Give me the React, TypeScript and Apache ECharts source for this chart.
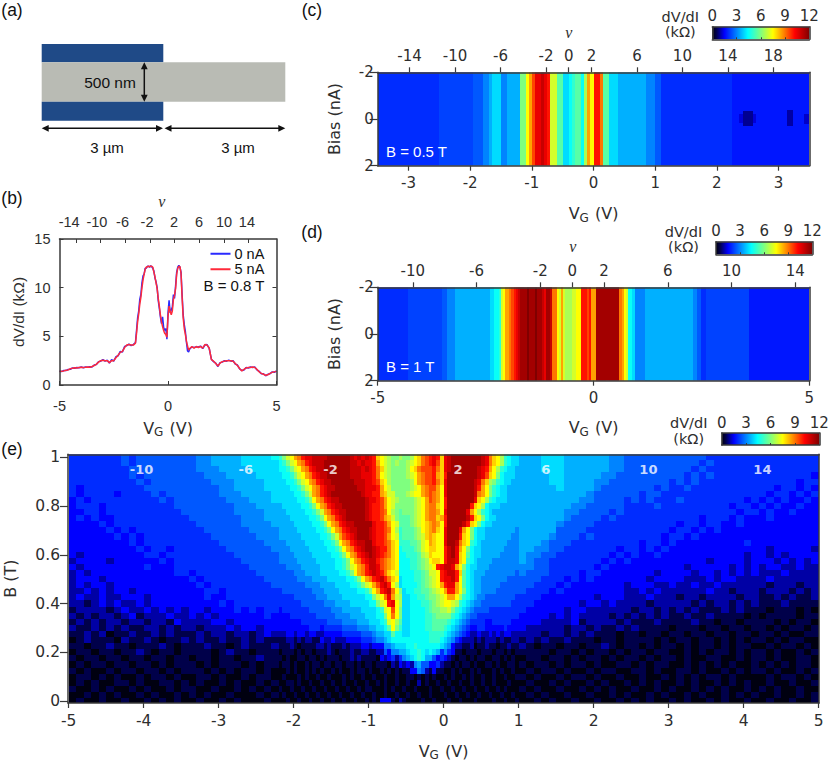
import { useEffect, useRef } from 'react';
import * as echarts from 'echarts';

// level chars are base 36, half a kOhm per step: 0=0, 6=3, c=6, i=9, o=12
// w and x are the two in-between blues, 1.75 and 2.25
const colorStops: Array<[number, string]> = [
  [0, '#000010'], [0.5, '#00004a'], [1.5, '#0000ff'], [4.4, '#00ffff'], [6, '#7fff7f'],
  [7.5, '#ffff00'], [8.8, '#ff8800'], [10.2, '#ff0000'], [12, '#800000'],
];

// (b)
const bVg = [
  -5, -4.9, -4.8, -4.7, -4.6, -4.5, -4.4, -4.3, -4.2, -4.1, -4, -3.9, -3.8, -3.7, -3.6, -3.5, -3.4, -3.3, -3.2, -3.1,
  -3, -2.9, -2.8, -2.7, -2.6, -2.5, -2.4, -2.3, -2.2, -2.1, -2, -1.9, -1.8, -1.7, -1.6,
  -1.5, -1.45, -1.4, -1.35, -1.3, -1.25, -1.2, -1.15, -1.1, -1.05, -1, -0.95, -0.9, -0.85, -0.8, -0.75, -0.7, -0.65, -0.6, -0.55,
  -0.5, -0.45, -0.4, -0.35, -0.3, -0.25, -0.2, -0.15, -0.1, -0.05, 0, 0.05, 0.1, 0.15, 0.2, 0.25, 0.3, 0.35, 0.4, 0.45,
  0.5, 0.55, 0.6, 0.65, 0.7, 0.75, 0.8, 0.85, 0.9, 0.95,
  1, 1.1, 1.2, 1.3, 1.4, 1.5, 1.6, 1.7, 1.8, 1.9, 2, 2.1, 2.2, 2.3, 2.4, 2.5, 2.6, 2.7, 2.8, 2.9,
  3, 3.1, 3.2, 3.3, 3.4, 3.5, 3.6, 3.7, 3.8, 3.9, 4, 4.1, 4.2, 4.3, 4.4, 4.5, 4.6, 4.7, 4.8, 4.9, 5,
];
const bBlue = [
  1.42, 1.38, 1.5, 1.48, 1.6, 1.62, 1.75, 1.72, 1.8, 1.78, 1.85, 1.78, 1.85, 1.82, 1.88, 1.85, 2.05, 2.1, 2.4, 2.45,
  2.6, 2.45, 2.55, 2.25, 2.6, 2.45, 2.9, 3.0, 3.45, 3.4, 3.95, 4.05, 4.2, 4.05, 4.15,
  4.35, 5.6, 6.9, 7.6, 8.8, 9.3, 10.5, 11.2, 11.4, 12.0, 12.0, 12.2, 12.2, 12.1, 12.25, 12.15, 12.0, 11.7, 11.0, 10.6,
  10.0, 8.7, 7.9, 7.0, 6.3, 7.0, 5.9, 5.6, 5.8, 4.7, 7.4, 8.7, 7.4, 7.7, 8.0, 9.3, 8.9, 10.2, 11.6, 12.1,
  12.3, 12.1, 11.6, 9.3, 7.2, 6.2, 5.5, 4.4, 3.5, 3.4,
  3.7, 3.9, 3.85, 3.9, 3.9, 4.0, 3.75, 4.1, 4.15, 3.75, 2.65, 2.4, 2.25, 1.9, 2.3, 2.35, 2.5, 2.45, 2.55, 2.45,
  2.5, 2.15, 2.05, 1.65, 1.5, 1.55, 1.8, 1.75, 1.85, 1.8, 1.85, 1.55, 1.4, 1.15, 1.15, 0.95, 1.1, 1.15, 1.35, 1.3, 1.45,
];
const bRed = [
  1.38, 1.42, 1.45, 1.52, 1.55, 1.68, 1.72, 1.78, 1.75, 1.8, 1.82, 1.8, 1.82, 1.85, 1.82, 1.9, 2.0, 2.15, 2.35, 2.5,
  2.55, 2.5, 2.5, 2.3, 2.5, 2.5, 2.8, 3.05, 3.35, 3.45, 3.85, 4.1, 4.15, 4.1, 4.1,
  4.3, 5.3, 6.5, 7.3, 8.3, 9.0, 10.0, 10.8, 11.4, 11.9, 12.1, 12.15, 12.2, 12.15, 12.2, 12.2, 12.1, 11.6, 11.1, 10.5,
  9.9, 8.9, 8.1, 7.2, 6.5, 6.0, 5.6, 5.3, 5.2, 4.9, 7.0, 8.1, 7.6, 7.2, 7.6, 8.8, 9.2, 9.9, 11.4, 12.0,
  12.2, 12.15, 11.5, 9.0, 6.9, 5.8, 5.2, 4.5, 4.0, 3.6,
  3.75, 3.95, 3.8, 3.95, 3.85, 3.95, 3.8, 4.15, 4.1, 3.8, 2.6, 2.45, 2.2, 1.95, 2.25, 2.4, 2.45, 2.5, 2.5, 2.5,
  2.45, 2.2, 2.0, 1.7, 1.45, 1.6, 1.75, 1.8, 1.8, 1.85, 1.8, 1.6, 1.35, 1.2, 1.1, 1.0, 1.05, 1.2, 1.3, 1.35, 1.4,
];
const bNuTicks = [-14, -10, -6, -2, 2, 6, 10, 14];
const bNuLabelAt = [-15.1, -10.6, -6.45, -2.48, 1.9, 5.95, 10, 13.7];

// (c) one profile along VG, 0.05 V a column from -3.5 V
const cProfile =
  '4444444444 4444444444 xxxxxxxxxx x555667888 66777 7ccfh jllmlkeebb 889abb9dhf kkibb88877 7777777666 5544444444 4444444444 44444wwwww wwwwwwwwww wwwwwwwwww';
const cSpots = [
  [2.36, 2.64, -0.2, 0.15, 1.3], [2.42, 2.58, -0.35, 0.3, 0.9], [3.14, 3.24, -0.4, 0.3, 1], [3.42, 3.5, -0.2, 0.2, 1.2],
];
const cNuTicks = [-14, -10, -6, -2, 0, 2, 6, 10, 14, 18];

// (d) 0.1 V columns outside, 0.05 V in the middle
const dLeft = '44444 44xxx xxxxx 56 677777777';
const dMiddle = '8899aefhhi jklmnnnonn nonnmlnnmi ifehedddee ffkkkjkhhn nnnnnnnnnn ihfe998666 66 66';
const dRight = '77777777777 6 54 xxxxxxxxxx wwwwwwwwwwwwww';
const dNuTicks = [-10, -6, -2, 0, 2, 6, 10, 14];

// (e) rows from B = 1 T down, three blocks: -5..-2.2 V, -2.2..1 V, 1..5 V
const eB = [
  1, 0.975, 0.95, 0.925, 0.9, 0.875, 0.85, 0.825, 0.8, 0.775, 0.75, 0.725, 0.7, 0.675, 0.65, 0.625, 0.6, 0.575, 0.55, 0.525,
  0.5, 0.475, 0.45, 0.425, 0.4, 0.375, 0.35, 0.325, 0.3, 0.275, 0.25, 0.225, 0.2, 0.175, 0.15, 0.125, 0.1, 0.075, 0.05, 0.025, 0,
];
const eLeft = [
  '4444 4445 4555 5555 5667 7778 8889', '4444 4445 4555 5555 5667 7778 8888', '4444 4444 5555 5555 5666 7777 8888',
  '4444 4444 5455 5555 5566 6777 7888', '4444 4444 4545 5555 5556 6677 7788', '4344 4444 4455 5555 5555 6677 7788',
  '4344 4434 4445 4555 5555 6667 7778', '3434 4444 4444 5455 5555 5666 7778', '3444 3444 4444 4455 5555 5566 6777',
  '3344 3444 4444 4445 5555 5566 6677', '3434 3344 4444 4444 5555 5556 6677', '3333 4344 4444 4444 4555 5556 6667',
  '3333 3434 3444 4444 4455 5555 6666', '3333 3343 4344 4444 4445 5555 5666', '3333 3333 4344 4444 4444 5555 5566',
  '3333 3333 3434 4344 4444 4555 5556', '3233 3333 3344 3444 4444 4455 5555', '2333 3233 3333 4344 4444 4445 5555',
  '3233 3333 3343 3344 4444 4444 5555', '2323 3333 3333 3344 3444 4444 4555', '2333 2333 3333 3333 4344 4444 4455',
  '2323 3233 3333 3333 3434 4444 4445', '2232 3233 2333 3333 3344 3444 4444', '2322 3223 3323 3333 3343 3444 4444',
  '2212 3232 2323 3333 3333 4344 4444', '1222 2123 2232 3232 3323 3343 4344', '2121 2212 3122 2322 3232 3333 3343',
  '1212 1221 2212 2132 2223 3233 3333', '2112 1212 1122 1212 2122 2323 3233', '1121 2011 2112 1211 1212 2122 1232',
  '0121 1102 1121 0112 1211 2112 1211', '1101 1211 0111 2101 1121 1012 1112', '0110 1101 1210 1101 1110 1211 0111',
  '1011 0110 1101 1011 0110 1101 1211', '0101 1011 0110 1011 1010 1110 1011', '1010 0101 1011 0101 1101 0101 1010',
  '0110 1010 0101 1010 0110 1001 0110', '0101 0011 0100 1101 0100 1010 0101', '1001 0100 1010 0101 1001 0010 1010',
  '0010 1010 0101 0010 1010 0100 0101', '0100 1001 0010 1010 0100 1010 0010',
];
const eMiddle = [
  'acef hikl lmmm mnnn nnnm lmlm lkgf edcc dccd fgij klkg lmnn nnnn nnml igfd a988',
  '9ace fhik lmmm nnnn nnnm mlml lkhf edcd ccde fgij kljg lmnn nnnn nnml igfd a988',
  '99ac efhi klmm nnnn nnnm mmlm lkig edcc ccdf gijj jkig lmnn nnnn nmlk hfda 9887',
  '899a cefh iklm mnnn nnnm mmll lkif edcc ccde fhij jkhg knnn nnnn nmlj gfc9 8887',
  '8899 acef hikl mmnn nnnn mmml lkjg fdcc cccd fhij jkig lnnn nnnn mlig dca9 8877',
  '8889 9ace fhik lmmn nnnn nmml llkh fecc cccd efhi jjhf lnnn nnnn mkhf ca98 8777',
  '8888 99ac ehik lmnn nnnn nnml lkkh geec ccde ffhi jihf lnnn nnnn mihf ca98 8777',
  '8888 899a cfhi klmm nnnn nnnm llkj hfed cccc defh jihf knnn nnnn lgfd a988 8777',
  '7888 8899 acfh iklm mnnn nnnm lkkj hfec cccc defh iigf knnn nnnk gfd9 8887 7777',
  '7788 8889 9ace hikl mmnn nnnm lkkj ifdc bccc defh iihf lnnn nnlh fda9 8777 7777',
  '7778 8888 99ac fhik lmnn nnnm lkkj hgec bbbc defh iigh knnn nnmk gfc9 8877 7777',
  '7777 8888 899a cfhi klmm nnnn nlkk jhfe bbbc defg hihf knnn nmkg fc98 8777 7777',
  '7777 7888 8899 acfh iklm mnnn mlkk jifd abbb cdfg higf lnnn lhfc 9887 7777 7776',
  '7777 7788 8889 9ace hjkl mnnn mlkk jhfe abbb cdeg hgff lnnn kgfc 9887 7777 7766',
  '6677 7778 8888 99ac fhik lmmn nlkk jigf aaab bcef hgff lnnm igfa 9877 7777 7666',
  '6667 7777 8888 899a cfhi klmn nmlk kigf 9aaa bcef ggff kmnl hfc9 8877 7777 6666',
  '6666 7777 7888 8899 acfh iklm nmlk jigf 99aa abde gfff kmnl gfb9 8877 7776 6666',
  '6666 6777 7788 8889 9acf hikl mmkj ihgf 999a abcd fggf kmml gfa9 8777 7666 6666',
  '5566 6677 7778 8889 9ace fhik mmlj ihgf 999a abcd efkl mmlh fc98 8777 6666 6666',
  '5555 6667 7778 8888 99ac fhik lmlk igfe 9999 aabc eefk lmmk gb98 7776 6666 6665',
  '5555 5666 6777 7888 8899 acfh iklm kigf 8999 aabc defk llmk fb98 7766 6666 6555',
  '5555 5556 6667 7778 8889 9ace fhjl mkfd 8999 9abc defh kllh fb98 7766 6665 5555',
  '4555 5555 5666 7777 8888 899a cfhk lmif c899 aabb cdef hkkh fc98 7766 6655 5555',
  '4444 5555 5566 6777 7888 8889 9cef ilhe d889 9aab ccde fhhf da98 7665 5555 5554',
  '4444 4455 5555 6667 7778 8888 99ce fklf d889 99aa bcde ffed a987 6655 5555 5544',
  '3444 4444 5555 5566 6777 7788 889a efjf c889 999a bccd deca 9876 5555 4444 4444',
  '3334 4444 4455 5556 6667 7778 8899 cfif c889 999a abcc cca9 8765 5444 4444 4444',
  '3333 3344 4444 4555 5666 6777 8889 aefd b889 999a abbb ba98 7654 4443 3444 4433',
  '3333 3333 4443 4444 4555 5666 7788 9bfc a889 999a abbb a987 6543 3443 3333 4333',
  '2233 2332 3322 3333 3444 4455 5677 88b9 9889 9999 aaaa 9876 5432 2322 3232 3322',
  '1122 1212 2113 2232 2233 3344 4566 7899 9999 9999 aaa9 8764 3222 1212 2212 1122',
  '1112 1011 1122 1211 1212 2233 2333 6678 8899 a999 9998 7632 2112 0112 1101 1211',
  '0111 0101 1011 1210 1112 1122 1122 5366 7789 9a98 9874 6431 1011 1011 1011 0101',
  '1010 0110 1101 0111 0112 1211 1103 2342 4678 9a97 7534 3210 1101 0110 0110 1010',
  '0110 1001 0110 1101 1011 0101 1011 1021 3232 6755 3342 1101 0110 1001 1010 0110',
  '0010 1001 0101 0010 1001 0110 1001 0101 0113 3652 1311 0010 1001 0100 0101 0010',
  '0100 0101 0010 0100 0101 0010 0100 1001 0011 0101 0100 1010 0101 0010 0100 1001',
  '0011 0100 1001 0010 0100 1001 0010 1001 0010 0201 0010 0100 1001 0010 0100 0100',
  '1001 0010 0100 1001 0010 0101 1000 1010 0100 1000 1001 0010 0100 1001 0010 1000',
  '0100 1001 0010 0100 1001 0010 0100 1001 0010 0100 1000 1001 0010 0100 1001 0010',
  '0010 0100 1001 0010 0100 1001 0103 3310 2100 0010 0100 0100 1000 1000 0100 1001',
];
const eRight = [
  '7778 8877 7777 6655 5555 5555 5444 4444 4444 4444', '7778 8877 7777 6655 5555 5555 4544 4444 4444 4444',
  '7778 8877 7777 6655 5555 5554 5444 4444 4444 4444', '7777 8877 7776 6555 5555 5545 4544 4444 4444 4443',
  '7777 8877 7766 5555 5555 4545 4444 4444 4444 4344', '7777 7877 7765 5555 5545 4454 4444 4444 4434 4343',
  '7777 7777 7655 5555 4554 4444 4444 4444 4344 3434', '7777 7777 6655 5545 4544 4544 4444 4434 3434 3343',
  '7777 7776 6555 5544 4454 4444 4444 3443 4343 3433', '7777 7766 5555 4544 4444 4444 4444 4344 3433 4333',
  '7777 7765 5554 5444 4444 4444 3444 3433 3433 3333', '7777 7655 5544 4444 4444 4344 3443 3433 3333 3333',
  '7777 7555 5444 4444 4444 3443 4343 3333 3333 3333', '7777 6555 4544 4444 4443 4434 3333 3333 3333 3333',
  '7776 5554 4444 4444 3443 4333 3333 3343 3333 3333', '7766 5544 4444 4344 3434 3333 3333 3333 3233 3332',
  '7665 5444 4444 3434 3343 3333 3333 3323 3232 3333', '7655 4444 4443 4343 3333 3333 3233 3323 3323 2323',
  '6655 4444 4434 3333 3333 3323 3333 2323 2332 2322', '6555 4444 3443 3333 3323 3332 3323 2323 2223 2222',
  '5554 4434 3433 3333 3233 3322 2323 3222 2322 2222', '5544 4343 3333 3323 3322 3223 2232 2222 2122 2122',
  '5444 3433 3333 3322 3232 2222 2322 1222 1222 1212', '4443 3333 3323 3322 2322 2122 1222 2122 1121 2112',
  '4433 3333 2332 3222 2122 2221 2122 1212 1112 1111', '4333 3323 3222 2221 2212 1212 1112 1211 1011 1010',
  '3333 2323 2222 1212 1212 1121 1211 1101 0111 1011', '3332 2223 1222 2121 1121 1112 1101 1011 1101 0110',
  '3222 2212 2121 1212 1111 0111 0110 1101 1010 1101', '2221 2212 1211 1011 0110 1101 1011 0110 1101 0011',
  '1212 1121 1101 1011 1101 0110 1101 0101 1010 1100', '2101 1011 0112 1011 0101 1010 1101 0110 0101 1010',
  '1111 0110 1011 0101 1011 0010 1011 0101 1010 0101', '0110 1101 0110 1011 0101 1010 0110 0101 1010 0110',
  '1011 0101 1010 0110 1011 0010 1010 1001 0101 0110', '0101 1010 0101 1001 1010 0110 1001 0101 1010 0101',
  '1010 0101 1010 0100 1001 0101 0110 1000 0101 1010', '0100 1010 0101 0010 1010 0101 0010 1010 0100 1001',
  '1010 0100 1010 1001 0010 1001 0101 0010 1010 0100', '0101 0010 0100 1010 0101 0010 1001 0101 0010 0101',
  '0010 1001 0010 0101 0100 1010 0101 0010 0100 1001',
];
const eNuNames = ['-10', '-6', '-2', '2', '6', '10', '14'];
const eNuV = [-4.03, -2.64, -1.51, 0.19, 1.36, 2.73, 4.25];

const tickText = '#2e2e2e';
const axisDark = '#3a3a3a';
const plainFont = 'DejaVu Sans';
const labelFont = 'Liberation Sans';

const rgb = (hex: string) => [1, 3, 5].map((i) => parseInt(hex.slice(i, i + 2), 16));

function jetColor(v: number) {
  for (let i = 1; i < colorStops.length; i++) {
    if (v <= colorStops[i][0]) {
      const [v0, c0] = colorStops[i - 1];
      const [v1, c1] = colorStops[i];
      const t = Math.max(0, (v - v0) / (v1 - v0));
      const a = rgb(c0);
      const b = rgb(c1);
      return `rgb(${a.map((x, k) => Math.round(x + (b[k] - x) * t)).join(',')})`;
    }
  }
  return colorStops[colorStops.length - 1][1];
}

const levels = (s: string) =>
  s.replace(/ /g, '').split('').map((ch) => (ch === 'w' ? 1.75 : ch === 'x' ? 2.25 : parseInt(ch, 36) / 2));

// one item per cell: [x0, x1, y0, y1, value]
function cells(row: string, x0: number, dx: number, y0: number, y1: number) {
  return levels(row).map((v, i) => [x0 + i * dx, x0 + (i + 1) * dx, y0, y1, v]);
}

const renderCell = (params: any, api: any) => {
  const a = api.coord([api.value(0), api.value(2)]);
  const b = api.coord([api.value(1), api.value(3)]);
  const x = Math.round(Math.min(a[0], b[0]));
  const y = Math.round(Math.min(a[1], b[1]));
  const shape = echarts.graphic.clipRectByRect(
    { x, y, width: Math.round(Math.max(a[0], b[0])) - x, height: Math.round(Math.max(a[1], b[1])) - y },
    params.coordSys,
  );
  if (!shape) return;
  return { type: 'rect', shape, style: { fill: jetColor(api.value(4)) } };
};

const heatSeries = (axis: number, data: number[][]) => ({
  type: 'custom',
  xAxisIndex: axis,
  yAxisIndex: axis,
  renderItem: renderCell,
  silent: true,
  data,
});

const tickLabel = { color: tickText, fontFamily: plainFont, fontSize: 15 };
const bTickLabel = { color: tickText, fontFamily: labelFont, fontSize: 14.5 };
const vgName = {
  name: '{v|V}{g|G}{v| (V)}',
  nameLocation: 'middle',
  nameTextStyle: {
    rich: {
      v: { fontFamily: plainFont, fontSize: 16, color: tickText },
      g: { fontFamily: plainFont, fontSize: 12, color: tickText, padding: [8, 1, 0, 0] },
    },
  },
};

function xAxisFor(gridIndex: number, min: number, max: number, ticks: number[], extra: any = {}) {
  return {
    type: 'value', gridIndex, min, max, position: 'bottom', z: 10,
    splitLine: { show: false },
    axisLine: { show: true, onZero: false, lineStyle: { color: axisDark, width: 1.5 } },
    axisTick: { show: true, length: 5, customValues: ticks, lineStyle: { color: axisDark, width: 1.2 } },
    axisLabel: { ...tickLabel, margin: 10, customValues: ticks },
    ...extra,
  };
}

function yAxisFor(gridIndex: number, min: number, max: number, ticks: number[], extra: any = {}) {
  return {
    type: 'value', gridIndex, min, max, position: 'left', z: 10,
    splitLine: { show: false },
    axisLine: { show: true, onZero: false, lineStyle: { color: axisDark, width: 1.5 } },
    axisTick: { show: true, length: 8, customValues: ticks, lineStyle: { color: axisDark, width: 1.2 } },
    axisLabel: { ...tickLabel, margin: 4, customValues: ticks },
    ...extra,
  };
}

const yName = (name: string, nameGap: number, fontFamily = plainFont) => ({
  name, nameLocation: 'middle', nameGap,
  nameTextStyle: { color: tickText, fontFamily, fontSize: fontFamily === plainFont ? 16 : 15.5 },
});

// an axis with only its line, for the far side of a frame
const frameX = (gridIndex: number, min: number, max: number, position: string) => ({
  type: 'value', gridIndex, min, max, position, z: 10, splitLine: { show: false },
  axisLine: { show: true, onZero: false, lineStyle: { color: axisDark, width: 1.5 } },
  axisTick: { show: false }, axisLabel: { show: false },
});
const frameY = frameX;

function text(str: string, x: number, y: number, font: string, extra: any = {}) {
  return {
    type: 'text', z: 20, x, y,
    style: {
      text: str, font, fill: tickText, align: 'center', verticalAlign: 'middle',
      textAlign: 'center', textVerticalAlign: 'middle', ...extra,
    },
  };
}

const line = (x1: number, y1: number, x2: number, y2: number) => ({
  type: 'line', z: 20, shape: { x1, y1, x2, y2 }, style: { stroke: '#111', lineWidth: 1.5 },
});
const head = (points: number[][]) => ({ type: 'polygon', z: 20, shape: { points }, style: { fill: '#111' } });

function arrowH(x1: number, x2: number, y: number) {
  return [
    line(x1 + 3, y, x2 - 3, y),
    head([[x1, y], [x1 + 7, y - 3.4], [x1 + 7, y + 3.4]]),
    head([[x2, y], [x2 - 7, y - 3.4], [x2 - 7, y + 3.4]]),
  ];
}

function arrowV(x: number, y1: number, y2: number) {
  return [
    line(x, y1 + 3, x, y2 - 3),
    head([[x, y1], [x - 3.4, y1 + 7], [x + 3.4, y1 + 7]]),
    head([[x, y2], [x - 3.4, y2 - 7], [x + 3.4, y2 - 7]]),
  ];
}

export default function App() {
  const chartRef = useRef<HTMLDivElement>(null);

  useEffect(() => {
    if (!chartRef.current) return;
    document.body.style.margin = '0';
    const chart = echarts.init(chartRef.current, undefined, { renderer: 'svg' });

    const heatC = cells(cProfile, -3.5, 0.05, -2, 2).concat(cSpots);
    const heatD = [
      ...cells(dLeft, -5, 0.1, -2, 2),
      ...cells(dMiddle, -2.4, 0.05, -2, 2),
      ...cells(dRight, 1.2, 0.1, -2, 2),
    ];
    const heatE = eB.flatMap((b, j) => [
      ...cells(eLeft[j], -5, 0.1, b - 0.0125, b + 0.0125),
      ...cells(eMiddle[j], -2.2, 0.05, b - 0.0125, b + 0.0125),
      ...cells(eRight[j], 1, 0.1, b - 0.0125, b + 0.0125),
    ]);

    const grids = [
      { left: 59.5, top: 239, width: 217, height: 146 }, // b
      { left: 377.7, top: 72.3, width: 431.6, height: 93.4 }, // c
      { left: 377.7, top: 287.3, width: 431.6, height: 93.4 }, // d
      { left: 68, top: 454.3, width: 751, height: 248.7 }, // e
      { left: 712.3, top: 26.7, width: 97, height: 12.6 }, // colour bars
      { left: 716, top: 241.7, width: 96.3, height: 12.6 },
      { left: 721.7, top: 433, width: 97.6, height: 12 },
    ].map((g) => ({ ...g, outerBoundsMode: 'none' }));

    const barTicks = [0, 3, 6, 9, 12];
    const barX = (gridIndex: number) =>
      xAxisFor(gridIndex, 0, 12, barTicks, {
        position: 'top',
        axisLine: { show: true, onZero: false, lineStyle: { color: axisDark, width: 1.5 } },
        axisTick: { show: false },
        axisLabel: { ...tickLabel, margin: 3, customValues: barTicks },
      });
    const barY = (gridIndex: number) => ({
      type: 'value', gridIndex, min: 0, max: 1, z: 10, splitLine: { show: false },
      axisLine: { show: true, onZero: false, lineStyle: { color: axisDark, width: 1.5 } },
      axisTick: { show: false }, axisLabel: { show: false },
    });

    const xAxes: any[] = [
      xAxisFor(0, -5, 5, [-5, 0, 5], {
        ...vgName, nameGap: 33,
        axisTick: { show: true, inside: true, length: 4, customValues: [-5, 0, 5], lineStyle: { color: axisDark } },
        axisLabel: { ...bTickLabel, margin: 13, customValues: [-5, 0, 5] },
      }),
      xAxisFor(1, -3.5, 3.5, [-3, -2, -1, 0, 1, 2, 3], { ...vgName, nameGap: 38 }),
      xAxisFor(2, -5, 5, [-5, 0, 5], { ...vgName, nameGap: 37 }),
      xAxisFor(3, -5.01, 5.005, [-5, -4, -3, -2, -1, 0, 1, 2, 3, 4, 5], {
        ...vgName, nameGap: 38,
        axisLabel: { ...tickLabel, fontSize: 15.5, margin: 10, customValues: [-5, -4, -3, -2, -1, 0, 1, 2, 3, 4, 5] },
      }),
      barX(4), barX(5), barX(6),
      // filling factor axes on top: indices 7, 8, 9
      xAxisFor(0, -16.66, 18.5, bNuTicks, {
        position: 'top',
        axisTick: { show: true, inside: true, length: 4, customValues: bNuTicks, lineStyle: { color: axisDark } },
        axisLabel: {
          ...bTickLabel, margin: 10, customValues: bNuLabelAt,
          formatter: (v: number) => String(bNuTicks[bNuLabelAt.indexOf(v)]),
        },
      }),
      xAxisFor(1, -16.8, 21.16, cNuTicks, { position: 'top', axisLabel: { ...tickLabel, margin: 9, customValues: cNuTicks } }),
      xAxisFor(2, -12.2, 14.88, dNuTicks, { position: 'top', axisLabel: { ...tickLabel, margin: 9, customValues: dNuTicks } }),
    ];

    const yAxes: any[] = [
      yAxisFor(0, 0, 15, [0, 5, 10, 15], {
        ...yName('dV/dI (kΩ)', 33, labelFont),
        axisTick: { show: true, inside: true, length: 4, customValues: [0, 5, 10, 15], lineStyle: { color: axisDark } },
        axisLabel: { ...bTickLabel, margin: 9, customValues: [0, 5, 10, 15] },
      }),
      yAxisFor(1, -2, 2, [-2, 0, 2], { inverse: true, ...yName('Bias (nA)', 35) }),
      yAxisFor(2, -2, 2, [-2, 0, 2], { inverse: true, ...yName('Bias (nA)', 35) }),
      yAxisFor(3, -0.008, 1.012, [0, 0.2, 0.4, 0.6, 0.8, 1], {
        ...yName('B (T)', 50),
        axisLabel: { ...tickLabel, fontSize: 15.5, margin: 8, customValues: [0, 0.2, 0.4, 0.6, 0.8, 1] },
      }),
      barY(4), barY(5), barY(6),
      // right side of the frames: indices 7..10
      {
        ...frameY(0, 0, 15, 'right'),
        axisTick: { show: true, inside: true, length: 4, customValues: [5, 10], lineStyle: { color: axisDark } },
      },
      frameY(1, 0, 1, 'right'), frameY(2, 0, 1, 'right'), frameY(3, 0, 1, 'right'),
      frameY(4, 0, 1, 'right'), frameY(5, 0, 1, 'right'), frameY(6, 0, 1, 'right'),
    ];
    // bottom of the colour bars with small inner ticks, indices 10..12, and the top of (e) at 13
    const smallTicks = [3, 6, 9];
    [4, 5, 6].forEach((g) =>
      xAxes.push({
        ...frameX(g, 0, 12, 'bottom'),
        axisTick: { show: true, inside: true, length: 2, customValues: smallTicks, lineStyle: { color: axisDark } },
      }),
    );
    xAxes.push(frameX(3, 0, 1, 'top'));

    const barGradient = () =>
      new echarts.graphic.LinearGradient(0, 0, 1, 0, colorStops.map(([v, color]) => ({ offset: v / 12, color })));
    const barSeries = (axis: number) => ({
      type: 'custom', xAxisIndex: axis, yAxisIndex: axis, silent: true,
      renderItem: (_p: any, api: any) => {
        const a = api.coord([api.value(0), 1]);
        const b = api.coord([api.value(1), 0]);
        return {
          type: 'rect',
          shape: { x: a[0], y: a[1], width: b[0] - a[0], height: b[1] - a[1] },
          style: { fill: barGradient() },
        };
      },
      data: [[0, 12]],
    });

    const panelFont = `17.5px '${labelFont}'`;
    const graphic: any[] = [
      { type: 'rect', shape: { x: 41.7, y: 44, width: 121.6, height: 18.3 }, style: { fill: '#1f4a87' } },
      { type: 'rect', shape: { x: 41.7, y: 62.3, width: 243.6, height: 39.4 }, style: { fill: '#b9bbb4' } },
      { type: 'rect', shape: { x: 41.7, y: 101.7, width: 121.6, height: 19 }, style: { fill: '#1f4a87' } },
      ...arrowV(144.3, 62.3, 101.7),
      ...arrowH(41.7, 163, 128.3),
      ...arrowH(164.5, 285.3, 128.3),
      text('500 nm', 110, 82.7, `15.5px '${labelFont}'`, { fill: '#111' }),
      text('3 µm', 107, 147.7, `15px '${labelFont}'`, { fill: '#111' }),
      text('3 µm', 238, 147.7, `15px '${labelFont}'`, { fill: '#111' }),
      text('(a)', 12, 10, panelFont, { fill: '#111' }),
      text('(b)', 12, 198, panelFont, { fill: '#111' }),
      text('(c)', 312, 10, panelFont, { fill: '#111' }),
      text('(d)', 312, 232, panelFont, { fill: '#111' }),
      text('(e)', 12, 449, panelFont, { fill: '#111' }),
      text('ν', 161.7, 201, "italic 16px 'Liberation Serif'"),
      text('ν', 568.7, 32, "italic 16px 'Liberation Serif'"),
      text('ν', 572.7, 246.7, "italic 16px 'Liberation Serif'"),
      text('dV/dI', 680.3, 16.7, `14.5px '${plainFont}'`),
      text('(kΩ)', 680.3, 32.3, `14.5px '${plainFont}'`),
      text('dV/dI', 683.5, 231.7, `14.5px '${plainFont}'`),
      text('(kΩ)', 683.5, 247.3, `14.5px '${plainFont}'`),
      text('dV/dI', 688.7, 423, `14.5px '${plainFont}'`),
      text('(kΩ)', 688.7, 439, `14.5px '${plainFont}'`),
      text('B = 0.8 T', 234, 285.5, `15px '${labelFont}'`, { fill: '#111' }),
      text('B = 0.5 T', 386, 151, `15px '${labelFont}'`, { fill: '#fff', align: 'left', textAlign: 'left' }),
      text('B = 1 T', 386, 366.7, `15px '${labelFont}'`, { fill: '#fff', align: 'left', textAlign: 'left' }),
    ];

    const option: any = {
      animation: false,
      backgroundColor: '#fff',
      grid: grids,
      xAxis: xAxes,
      yAxis: yAxes,
      graphic,
      legend: {
        data: [{ name: '0 nA' }, { name: '5 nA' }],
        orient: 'vertical',
        left: 210.5,
        top: 246,
        itemWidth: 20,
        itemHeight: 2,
        itemGap: 0,
        icon: 'rect',
        selectedMode: false,
        padding: 0,
        textStyle: { fontFamily: labelFont, fontSize: 14.5, color: '#111', padding: [0, 0, 0, -1], lineHeight: 15.5 },
      },
      series: [
        {
          name: '0 nA', type: 'line', xAxisIndex: 0, yAxisIndex: 0, showSymbol: false, silent: true,
          itemStyle: { color: '#2a2aff' }, lineStyle: { color: '#2a2aff', width: 1.5 },
          data: bVg.map((v, i) => [v, bBlue[i]]),
        },
        {
          name: '5 nA', type: 'line', xAxisIndex: 0, yAxisIndex: 0, showSymbol: false, silent: true,
          itemStyle: { color: '#ff2a3a' }, lineStyle: { color: '#ff2a3a', width: 1.5 },
          data: bVg.map((v, i) => [v, bRed[i]]),
        },
        heatSeries(1, heatC),
        heatSeries(2, heatD),
        heatSeries(3, heatE),
        barSeries(4),
        barSeries(5),
        barSeries(6),
        {
          type: 'scatter', xAxisIndex: 3, yAxisIndex: 3, symbolSize: 0, silent: true, z: 5,
          label: {
            show: true, position: 'inside', formatter: '{b}', color: '#fff',
            fontFamily: plainFont, fontWeight: 'bold', fontSize: 13,
          },
          data: eNuV.map((v, i) => ({ name: eNuNames[i], value: [v, 0.948] })),
        },
      ],
    };

    chart.setOption(option);
    return () => chart.dispose();
  }, []);

  return <div ref={chartRef} style={{ position: 'fixed', left: 0, top: 0, width: 830, height: 765 }} />;
}
